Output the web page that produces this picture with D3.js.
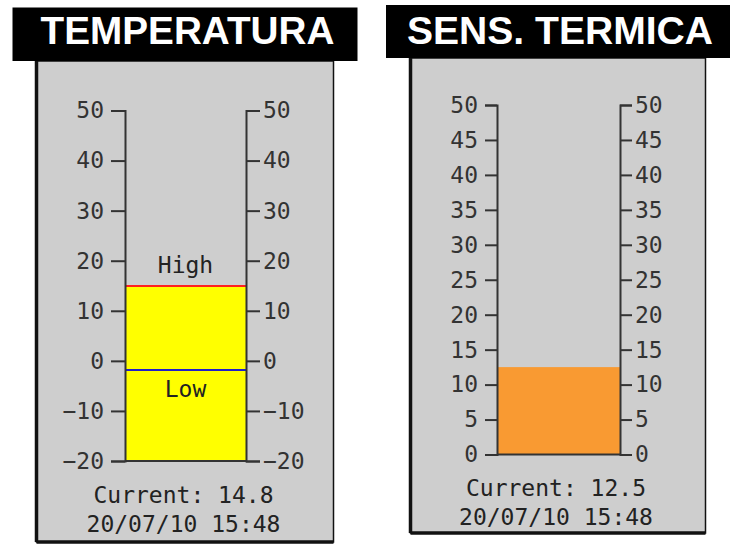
<!DOCTYPE html>
<html>
<head>
<meta charset="utf-8">
<script src="https://cdn.jsdelivr.net/npm/d3@7"></script>
<style>
  html, body { margin: 0; padding: 0; background: #ffffff; }
  svg { display: block; }
</style>
</head>
<body>
<svg id="chart" width="756" height="549"></svg>
<script>
// ---- data ----
const titles = ["TEMPERATURA", "SENS. TERMICA"];
const tempTicks = [-20, -10, 0, 10, 20, 30, 40, 50];
const tempDomain = [-20, 50];
const tempCurrent = 14.8;
const tempHigh = 15.0;
const tempLow = -1.8;
const sensTicks = [0, 5, 10, 15, 20, 25, 30, 35, 40, 45, 50];
const sensDomain = [0, 50];
const sensCurrent = 12.5;
const timestamps = ["20/07/10 15:48", "20/07/10 15:48"];
const markerLabels = ["High", "Low"];

// ---- drawing ----
const svg = d3.select("#chart");
const MONO = "'DejaVu Sans Mono', monospace";
const fmt = d => (d < 0 ? "\u2212" + Math.abs(d) : String(d));

function panel(cfg) {
  const g = svg.append("g");
  // gray body
  g.append("rect")
    .attr("x", cfg.px).attr("y", cfg.py)
    .attr("width", cfg.pw).attr("height", cfg.ph)
    .attr("fill", "#cecece").attr("stroke", "#111").attr("stroke-width", 1.5);
  // thick shadow edges (left & bottom)
  g.append("line").attr("x1", cfg.px).attr("x2", cfg.px)
    .attr("y1", cfg.py).attr("y2", cfg.py + cfg.ph)
    .attr("stroke", "#111").attr("stroke-width", 3.5);
  g.append("line").attr("x1", cfg.px).attr("x2", cfg.px + cfg.pw)
    .attr("y1", cfg.py + cfg.ph).attr("y2", cfg.py + cfg.ph)
    .attr("stroke", "#111").attr("stroke-width", 3.5);
  // title box
  g.append("rect")
    .attr("x", cfg.tx).attr("y", cfg.ty)
    .attr("width", cfg.tw).attr("height", cfg.th)
    .attr("fill", "#000");
  g.append("text")
    .attr("x", cfg.titleX).attr("y", cfg.titleY)
    .attr("text-anchor", "middle")
    .attr("fill", "#fff")
    .attr("font-family", "'Liberation Sans', Arial, sans-serif")
    .attr("font-weight", "bold")
    .attr("font-size", 38)
    .attr("textLength", cfg.titleLen)
    .attr("lengthAdjust", "spacingAndGlyphs")
    .text(cfg.title);

  const y = d3.scaleLinear().domain(cfg.domain).range(cfg.range);
  // bar
  g.append("rect")
    .attr("x", cfg.ax1).attr("width", cfg.ax2 - cfg.ax1)
    .attr("y", y(cfg.current))
    .attr("height", y(cfg.domain[0]) - y(cfg.current))
    .attr("fill", cfg.barColor);

  // markers
  if (cfg.high !== undefined) {
    const yh = Math.round(y(cfg.high));
    g.append("line").attr("x1", cfg.ax1).attr("x2", cfg.ax2)
      .attr("y1", yh).attr("y2", yh)
      .attr("stroke", "#ff2020").attr("stroke-width", 2);
    g.append("text").attr("x", (cfg.ax1 + cfg.ax2) / 2).attr("y", yh - 13)
      .attr("text-anchor", "middle").attr("font-family", MONO).attr("font-size", 23)
      .attr("fill", "#222").text(markerLabels[0]);
  }
  if (cfg.low !== undefined) {
    const yl = Math.round(y(cfg.low));
    g.append("line").attr("x1", cfg.ax1).attr("x2", cfg.ax2)
      .attr("y1", yl).attr("y2", yl)
      .attr("stroke", "#2020c8").attr("stroke-width", 2);
    g.append("text").attr("x", (cfg.ax1 + cfg.ax2) / 2).attr("y", yl + 27)
      .attr("text-anchor", "middle").attr("font-family", MONO).attr("font-size", 23)
      .attr("fill", "#222").text(markerLabels[1]);
  }

  // bottom line across the bar
  g.append("line").attr("x1", cfg.ax1).attr("x2", cfg.ax2)
    .attr("y1", y(cfg.domain[0])).attr("y2", y(cfg.domain[0]))
    .attr("stroke", "#333").attr("stroke-width", 2);

  const styleAxis = sel => {
    sel.attr("font-family", MONO).attr("font-size", 23);
    sel.selectAll("path, line").attr("stroke", "#333").attr("stroke-width", 2);
    sel.selectAll("text").attr("fill", "#333");
  };
  g.append("g").attr("transform", `translate(${cfg.ax1},0)`)
    .call(d3.axisLeft(y).tickValues(cfg.ticks).tickSize(cfg.tickLen)
      .tickSizeOuter(cfg.tickLen).tickPadding(cfg.padL).tickFormat(fmt))
    .call(styleAxis);
  g.append("g").attr("transform", `translate(${cfg.ax2},0)`)
    .call(d3.axisRight(y).tickValues(cfg.ticks).tickSize(cfg.tickLen)
      .tickSizeOuter(cfg.tickLen).tickPadding(cfg.padR).tickFormat(fmt))
    .call(styleAxis);

  // footer text
  const cx = cfg.footX;
  g.append("text").attr("x", cx).attr("y", cfg.foot1)
    .attr("text-anchor", "middle").attr("font-family", MONO).attr("font-size", 23)
    .attr("fill", "#222").text("Current: " + cfg.current.toFixed(1));
  g.append("text").attr("x", cx).attr("y", cfg.foot2)
    .attr("text-anchor", "middle").attr("font-family", MONO).attr("font-size", 23)
    .attr("fill", "#222").text(cfg.time);
}

panel({
  title: titles[0], titleX: 187.5, titleY: 43.5, titleLen: 294,
  tx: 12.5, ty: 7.5, tw: 345, th: 53.5,
  px: 36.5, py: 61, pw: 297, ph: 481,
  domain: tempDomain, range: [461, 110.5], ticks: tempTicks,
  ax1: 125, ax2: 246, tickLen: 14, padL: 7, padR: 3,
  current: tempCurrent, high: tempHigh, low: tempLow, barColor: "#ffff00",
  footX: 183.5, foot1: 503, foot2: 532, time: timestamps[0]
});

panel({
  title: titles[1], titleX: 560, titleY: 43.5, titleLen: 306,
  tx: 386, ty: 5, tw: 344, th: 53,
  px: 410.5, py: 58, pw: 295, ph: 475,
  domain: sensDomain, range: [454.5, 105], ticks: sensTicks,
  ax1: 497, ax2: 620, tickLen: 12, padL: 7, padR: 3,
  current: sensCurrent, barColor: "#f99a32",
  footX: 556, foot1: 496, foot2: 525, time: timestamps[1]
});
</script>
</body>
</html>
